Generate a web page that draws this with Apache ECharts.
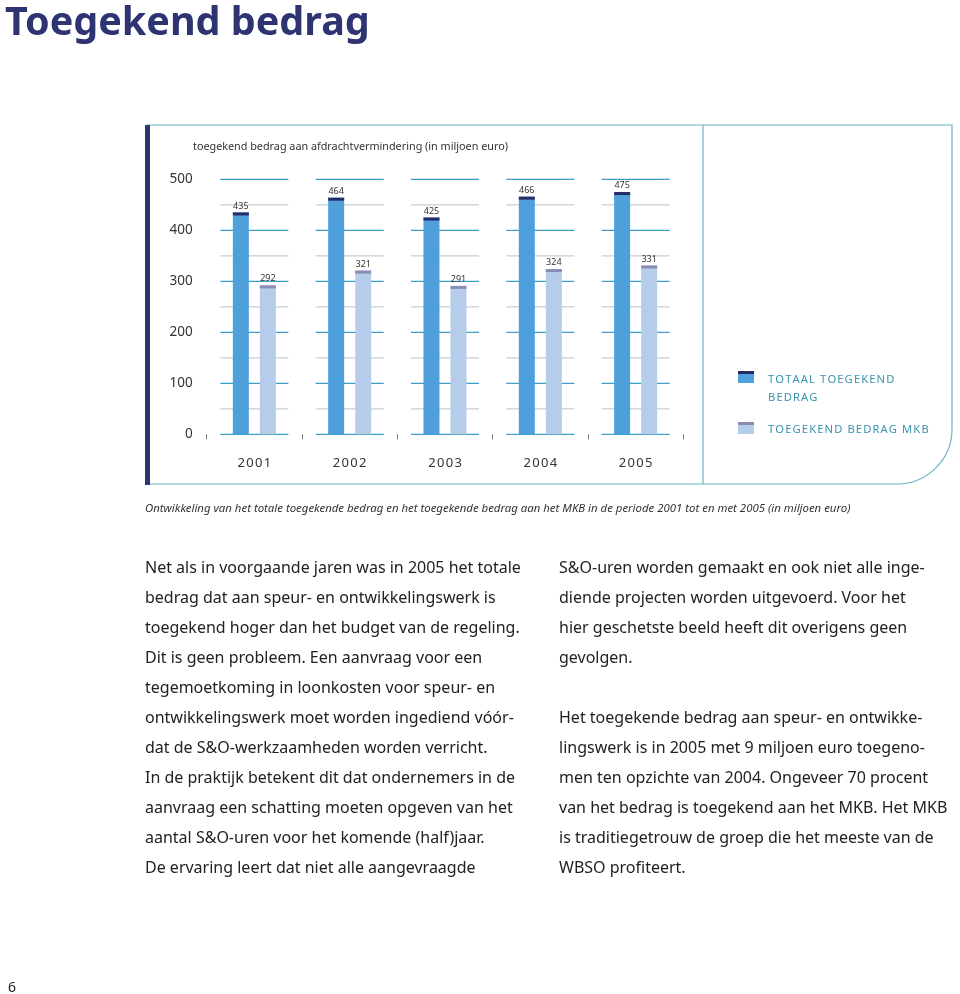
<!DOCTYPE html>
<html>
<head>
<meta charset="utf-8">
<script src="https://cdn.jsdelivr.net/npm/echarts@6/dist/echarts.min.js"></script>
<style>
html,body{margin:0;padding:0;background:#fff;}
#chart{width:960px;height:994px;}
</style>
</head>
<body>
<div id="chart"></div>
<script>
const years = ['2001', '2002', '2003', '2004', '2005'];
const totaal = [435, 464, 425, 466, 475];
const mkb = [292, 321, 291, 324, 331];
const majorTicks = [0, 100, 200, 300, 400, 500];
const minorTicks = [50, 150, 250, 350, 450];
const seriesNames = ['TOTAAL TOEGEKEND BEDRAG', 'TOEGEKEND BEDRAG MKB'];

const leftText = [
  'Net als in voorgaande jaren was in 2005 het totale',
  'bedrag dat aan speur- en ontwikkelingswerk is',
  'toegekend hoger dan het budget van de regeling.',
  'Dit is geen probleem. Een aanvraag voor een',
  'tegemoetkoming in loonkosten voor speur- en',
  'ontwikkelingswerk moet worden ingediend vóór-',
  'dat de S&O-werkzaamheden worden verricht.',
  'In de praktijk betekent dit dat ondernemers in de',
  'aanvraag een schatting moeten opgeven van het',
  'aantal S&O-uren voor het komende (half)jaar.',
  'De ervaring leert dat niet alle aangevraagde'
];
const rightText = [
  'S&O-uren worden gemaakt en ook niet alle inge-',
  'diende projecten worden uitgevoerd. Voor het',
  'hier geschetste beeld heeft dit overigens geen',
  'gevolgen.',
  '',
  'Het toegekende bedrag aan speur- en ontwikke-',
  'lingswerk is in 2005 met 9 miljoen euro toegeno-',
  'men ten opzichte van 2004. Ongeveer 70 procent',
  'van het bedrag is toegekend aan het MKB. Het MKB',
  'is traditiegetrouw de groep die het meeste van de',
  'WBSO profiteert.'
];

const FONT = '"Noto Sans", "Open Sans", sans-serif';
const spaced = s => s.split('').join('\u200A');

const chart = echarts.init(document.getElementById('chart'), null, {renderer: 'canvas'});

const COL = {
  navy: '#2e3472',
  bar: '#4f9fda',
  barLight: '#b5cdea',
  capDark: '#262d66',
  capLight: '#8a8cb6',
  gridMajor: '#3d9ec7',
  gridMinor: '#c9cdd2',
  frame: '#6db3c6',
  legendText: '#3a93ad'
};

function capSeries(values, offset, color, name) {
  return {
    type: 'custom',
    name: name + ' cap',
    z: 5,
    silent: true,
    data: values.map((v, i) => [i, v]),
    renderItem: function (params, api) {
      const p = api.coord([api.value(0), api.value(1)]);
      return {
        type: 'rect',
        shape: {x: p[0] + offset - 8, y: p[1], width: 16, height: 3},
        style: {fill: color}
      };
    }
  };
}

const gridSeries = {
  type: 'custom',
  name: 'grid',
  z: 1,
  silent: true,
  data: years.map((y, i) => [i]),
  renderItem: function (params, api) {
    const i = api.value(0);
    const c = api.coord([i, 0]);
    const band = api.size([1, 0])[0];
    const half = band * 0.357;
    const children = [];
    minorTicks.forEach(v => {
      const y = api.coord([i, v])[1];
      children.push({type: 'line', shape: {x1: c[0] - half, y1: y, x2: c[0] + half, y2: y},
        style: {stroke: COL.gridMinor, lineWidth: 1.3}});
    });
    majorTicks.forEach(v => {
      const y = api.coord([i, v])[1];
      children.push({type: 'line', shape: {x1: c[0] - half, y1: y, x2: c[0] + half, y2: y},
        style: {stroke: COL.gridMajor, lineWidth: 1.3}});
    });
    return {type: 'group', children: children};
  }
};

const graphics = [
  // title
  {type: 'text', left: 5, top: 4, style: {text: 'Toegekend bedrag', fill: COL.navy,
    font: 'bold 39.5px ' + FONT}},
  // frame
  {type: 'rect', shape: {x: 147, y: 125, width: 805, height: 359, r: [0, 0, 55, 0]},
    style: {fill: 'none', stroke: COL.frame, lineWidth: 1.2}, z: 0},
  {type: 'rect', shape: {x: 145, y: 125, width: 5, height: 360}, style: {fill: COL.navy}},
  {type: 'line', shape: {x1: 703, y1: 125, x2: 703, y2: 484}, style: {stroke: COL.frame, lineWidth: 1.2}},
  // chart subtitle
  {type: 'text', x: 193, y: 147, style: {text: 'toegekend bedrag aan afdrachtvermindering (in miljoen euro)',
    fill: '#333', font: '10.8px ' + FONT, textVerticalAlign: 'middle'}},
  // legend
  {type: 'rect', shape: {x: 738, y: 371, width: 16, height: 12}, style: {fill: COL.bar}},
  {type: 'rect', shape: {x: 738, y: 371, width: 16, height: 3}, style: {fill: COL.capDark}},
  {type: 'text', x: 768, y: 380, style: {text: spaced('TOTAAL TOEGEKEND'), fill: COL.legendText,
    font: '11.2px ' + FONT, textVerticalAlign: 'middle'}},
  {type: 'text', x: 768, y: 398, style: {text: spaced('BEDRAG'), fill: COL.legendText,
    font: '11.2px ' + FONT, textVerticalAlign: 'middle'}},
  {type: 'rect', shape: {x: 738, y: 422, width: 16, height: 12}, style: {fill: COL.barLight}},
  {type: 'rect', shape: {x: 738, y: 422, width: 16, height: 3}, style: {fill: COL.capLight}},
  {type: 'text', x: 768, y: 430, style: {text: spaced('TOEGEKEND BEDRAG MKB'), fill: COL.legendText,
    font: '11.2px ' + FONT, textVerticalAlign: 'middle'}},
  // caption
  {type: 'text', x: 145, y: 509, style: {text: 'Ontwikkeling van het totale toegekende bedrag en het toegekende bedrag aan het MKB in de periode 2001 tot en met 2005 (in miljoen euro)',
    fill: '#333', font: 'italic 11.4px ' + FONT, textVerticalAlign: 'middle'}},
  // page number
  {type: 'text', x: 8, y: 988, style: {text: '6', fill: '#222', font: '14px ' + FONT, textVerticalAlign: 'middle'}}
];
leftText.forEach((t, k) => {
  graphics.push({type: 'text', x: 145, y: 568 + 30 * k, style: {text: t, fill: '#222',
    font: '16px ' + FONT, textVerticalAlign: 'middle'}});
});
rightText.forEach((t, k) => {
  if (!t) return;
  graphics.push({type: 'text', x: 559, y: 568 + 30 * k, style: {text: t, fill: '#222',
    font: '16px ' + FONT, textVerticalAlign: 'middle'}});
});

chart.setOption({
  animation: false,
  backgroundColor: '#fff',
  textStyle: {fontFamily: FONT},
  grid: {left: 206.7, right: 276.7, top: 179.3, bottom: 559.7, containLabel: false},
  xAxis: {
    type: 'category',
    data: years,
    boundaryGap: true,
    axisLine: {show: false},
    axisTick: {show: true, length: 5, lineStyle: {color: '#777', width: 1}},
    axisLabel: {margin: 22, fontSize: 13, color: '#333', formatter: v => spaced(v)},
    splitLine: {show: false}
  },
  yAxis: {
    type: 'value',
    min: 0, max: 500, interval: 100,
    axisLine: {show: false},
    axisTick: {show: false},
    splitLine: {show: false},
    axisLabel: {margin: 14, fontSize: 13.5, color: '#333'}
  },
  graphic: graphics,
  series: [
    gridSeries,
    {
      type: 'bar', name: seriesNames[0], data: totaal, z: 3,
      barWidth: 16, barGap: '69%',
      itemStyle: {color: COL.bar},
      label: {show: true, position: 'top', distance: 2, fontSize: 9, color: '#333'}
    },
    {
      type: 'bar', name: seriesNames[1], data: mkb, z: 3,
      barWidth: 16, barGap: '69%',
      itemStyle: {color: COL.barLight},
      label: {show: true, position: 'top', distance: 2, fontSize: 9, color: '#333'}
    },
    capSeries(totaal, -13.5, COL.capDark, seriesNames[0]),
    capSeries(mkb, 13.5, COL.capLight, seriesNames[1])
  ]
});
</script>
</body>
</html>
